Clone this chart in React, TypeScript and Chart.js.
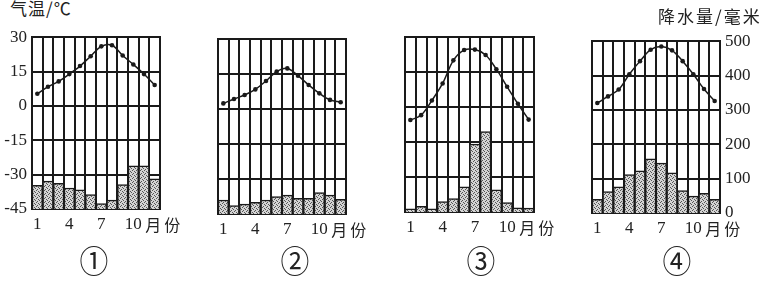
import React, { useEffect, useRef } from 'react';
import { Chart, registerables } from 'chart.js';

Chart.register(...registerables);

// ---------- data ----------
const months = ['1', '2', '3', '4', '5', '6', '7', '8', '9', '10', '11', '12'];
const monthTickLabels = ['1', '', '', '4', '', '', '7', '', '', '10', '', ''];
const monthUnit = '月份';
const tempTicks = [-45, -30, -15, 0, 15, 30];
const precipTicks = [0, 100, 200, 300, 400, 500];
const tempTitle = '气温/℃';
const precipTitle = '降水量/毫米';
const panelNames = ['①', '②', '③', '④'];

const temp1 = [5.3, 8.4, 10.7, 13.9, 17.4, 21.7, 26, 26.5, 22, 18.1, 13.9, 9.1];
const precip1 = [69, 81, 75, 61, 56, 42, 16, 26, 71, 126, 126, 88];

const temp2 = [2.4, 4.3, 6, 8.4, 12, 16, 17.4, 14.3, 10.3, 6.7, 3.9, 2.9];
const precip2 = [40, 24, 28, 33, 40, 50, 54, 45, 45, 61, 54, 42];

const temp3 = [-5.6, -3.5, 2.8, 10.1, 20, 24.4, 24.6, 22.3, 16.2, 8.7, 1.4, -5.4];
const precip3 = [9, 16, 9, 30, 38, 72, 194, 230, 63, 27, 12, 11];

const temp4 = [3, 5.9, 8.9, 15.6, 21.3, 26.3, 27.7, 26, 21.3, 15.6, 9.1, 3.9];
const precip4 = [40, 62, 76, 112, 123, 158, 145, 117, 65, 49, 57, 40];

// ---------- layout ----------
type Box = { L: number; T: number; R: number; B: number };
const boxes: Box[] = [
  { L: 32, T: 34, R: 160, B: 209 },
  { L: 218, T: 39, R: 346, B: 214 },
  { L: 405, T: 37, R: 534, B: 212 },
  { L: 592, T: 38, R: 720, B: 213 },
];
const circleCenters = [94, 295, 481, 677];

const INK = '#1a1a1a';
const SERIF = "'Liberation Serif', 'Times New Roman', serif";
const TICK_FONT = { family: SERIF, size: 17 };
const CJK = "'Noto Sans CJK SC', 'Noto Sans', sans-serif";

function makePattern(): CanvasPattern | string {
  const c = document.createElement('canvas');
  c.width = 4;
  c.height = 4;
  const g = c.getContext('2d');
  if (!g) return '#c0c0c0';
  g.fillStyle = '#d4d4d4';
  g.fillRect(0, 0, 4, 4);
  g.fillStyle = '#555555';
  g.fillRect(0, 0, 1, 1);
  g.fillRect(2, 1, 1, 1);
  g.fillRect(1, 3, 1, 1);
  g.fillRect(3, 2, 1, 1);
  return g.createPattern(c, 'repeat') ?? '#c0c0c0';
}

const PADL = 40;
const PADR = 44;
const PADT = 12;
const PADB = 32;

function Panel(props: { box: Box; temp: number[]; precip: number[]; left: boolean; right: boolean }) {
  const { box, temp, precip, left, right } = props;
  const ref = useRef<HTMLCanvasElement>(null);
  const w = box.R - box.L + PADL + PADR;
  const h = box.B - box.T + PADT + PADB;

  useEffect(() => {
    if (!ref.current) return;
    const pattern = makePattern();
    const chart = new Chart(ref.current, {
      data: {
        labels: months,
        datasets: [
          {
            type: 'line',
            data: temp,
            yAxisID: 'y',
            borderColor: INK,
            borderWidth: 1.5,
            tension: 0.35,
            pointRadius: 2.3,
            pointBackgroundColor: INK,
            pointBorderWidth: 0,
            order: 0,
          },
          {
            type: 'bar',
            data: precip,
            yAxisID: 'y1',
            backgroundColor: pattern as any,
            borderColor: INK,
            borderWidth: 1.5,
            barPercentage: 1,
            categoryPercentage: 1,
            order: 1,
          },
        ],
      } as any,
      options: {
        animation: false,
        responsive: false,
        maintainAspectRatio: false,
        devicePixelRatio: 1,
        layout: { padding: { top: PADT, left: 0, right: 0, bottom: 0 } },
        plugins: { legend: { display: false }, tooltip: { enabled: false } },
        scales: {
          x: {
            type: 'category',
            offset: true,
            grid: { offset: true, color: INK, lineWidth: 2, drawTicks: false },
            border: { color: INK, width: 2 },
            ticks: {
              autoSkip: false,
              maxRotation: 0,
              minRotation: 0,
              padding: 5,
              color: '#222',
              font: TICK_FONT,
              callback: (_v: any, i: number) => monthTickLabels[i],
            },
            afterFit: (s: any) => {
              s.height = PADB;
            },
          },
          y: {
            type: 'linear',
            position: 'left',
            min: tempTicks[0],
            max: tempTicks[tempTicks.length - 1],
            afterBuildTicks: (s: any) => {
              s.ticks = tempTicks.map((v) => ({ value: v }));
            },
            grid: { color: INK, lineWidth: 2, drawTicks: false },
            border: { color: INK, width: 2 },
            ticks: {
              display: left,
              padding: 5,
              color: '#222',
              font: TICK_FONT,
              callback: (v: any) => String(v),
            },
            afterFit: (s: any) => {
              s.width = PADL;
            },
          },
          y1: {
            type: 'linear',
            position: 'right',
            min: precipTicks[0],
            max: precipTicks[precipTicks.length - 1],
            afterBuildTicks: (s: any) => {
              s.ticks = precipTicks.map((v) => ({ value: v }));
            },
            grid: { display: false, drawTicks: false },
            border: { color: INK, width: 2 },
            ticks: {
              display: right,
              padding: 5,
              color: '#222',
              font: TICK_FONT,
              callback: (v: any) => String(v),
            },
            afterFit: (s: any) => {
              s.width = PADR;
            },
          },
        },
      } as any,
    });
    return () => chart.destroy();
  }, []);

  return (
    <canvas
      ref={ref}
      width={w}
      height={h}
      style={{ position: 'absolute', left: box.L - PADL, top: box.T - PADT, width: w, height: h }}
    />
  );
}

export default function App() {
  const temps = [temp1, temp2, temp3, temp4];
  const precs = [precip1, precip2, precip3, precip4];
  return (
    <div
      style={{
        position: 'absolute',
        left: 0,
        top: 0,
        width: 764,
        height: 281,
        background: '#fff',
        overflow: 'hidden',
      }}
    >
      {boxes.map((b, i) => (
        <Panel key={i} box={b} temp={temps[i]} precip={precs[i]} left={i === 0} right={i === 3} />
      ))}
      {boxes.map((b, i) => {
        const colW = (b.R - b.L) / 12;
        const octCenter = b.L + colW * 9.5;
        return (
          <div
            key={'u' + i}
            style={{
              position: 'absolute',
              left: octCenter + 12,
              top: b.B + 7,
              fontFamily: CJK,
              fontSize: 16,
              lineHeight: '16px',
              letterSpacing: 3,
              color: '#222',
              whiteSpace: 'nowrap',
            }}
          >
            {monthUnit}
          </div>
        );
      })}
      <div
        style={{
          position: 'absolute',
          left: 10,
          top: -1,
          fontFamily: CJK,
          fontSize: 17,
          lineHeight: '17px',
          letterSpacing: 1,
          color: '#222',
          whiteSpace: 'nowrap',
        }}
      >
        {tempTitle}
      </div>
      <div
        style={{
          position: 'absolute',
          left: 658,
          top: 7,
          fontFamily: CJK,
          fontSize: 17,
          lineHeight: '17px',
          letterSpacing: 2,
          color: '#222',
          whiteSpace: 'nowrap',
        }}
      >
        {precipTitle}
      </div>
      {panelNames.map((n, i) => (
        <div
          key={'n' + i}
          style={{
            position: 'absolute',
            left: circleCenters[i] - 25,
            top: 243,
            width: 50,
            textAlign: 'center',
            fontFamily: CJK,
            fontSize: 32,
            lineHeight: '32px',
            color: '#222',
            transform: 'scaleX(0.9)',
          }}
        >
          {n}
        </div>
      ))}
    </div>
  );
}
